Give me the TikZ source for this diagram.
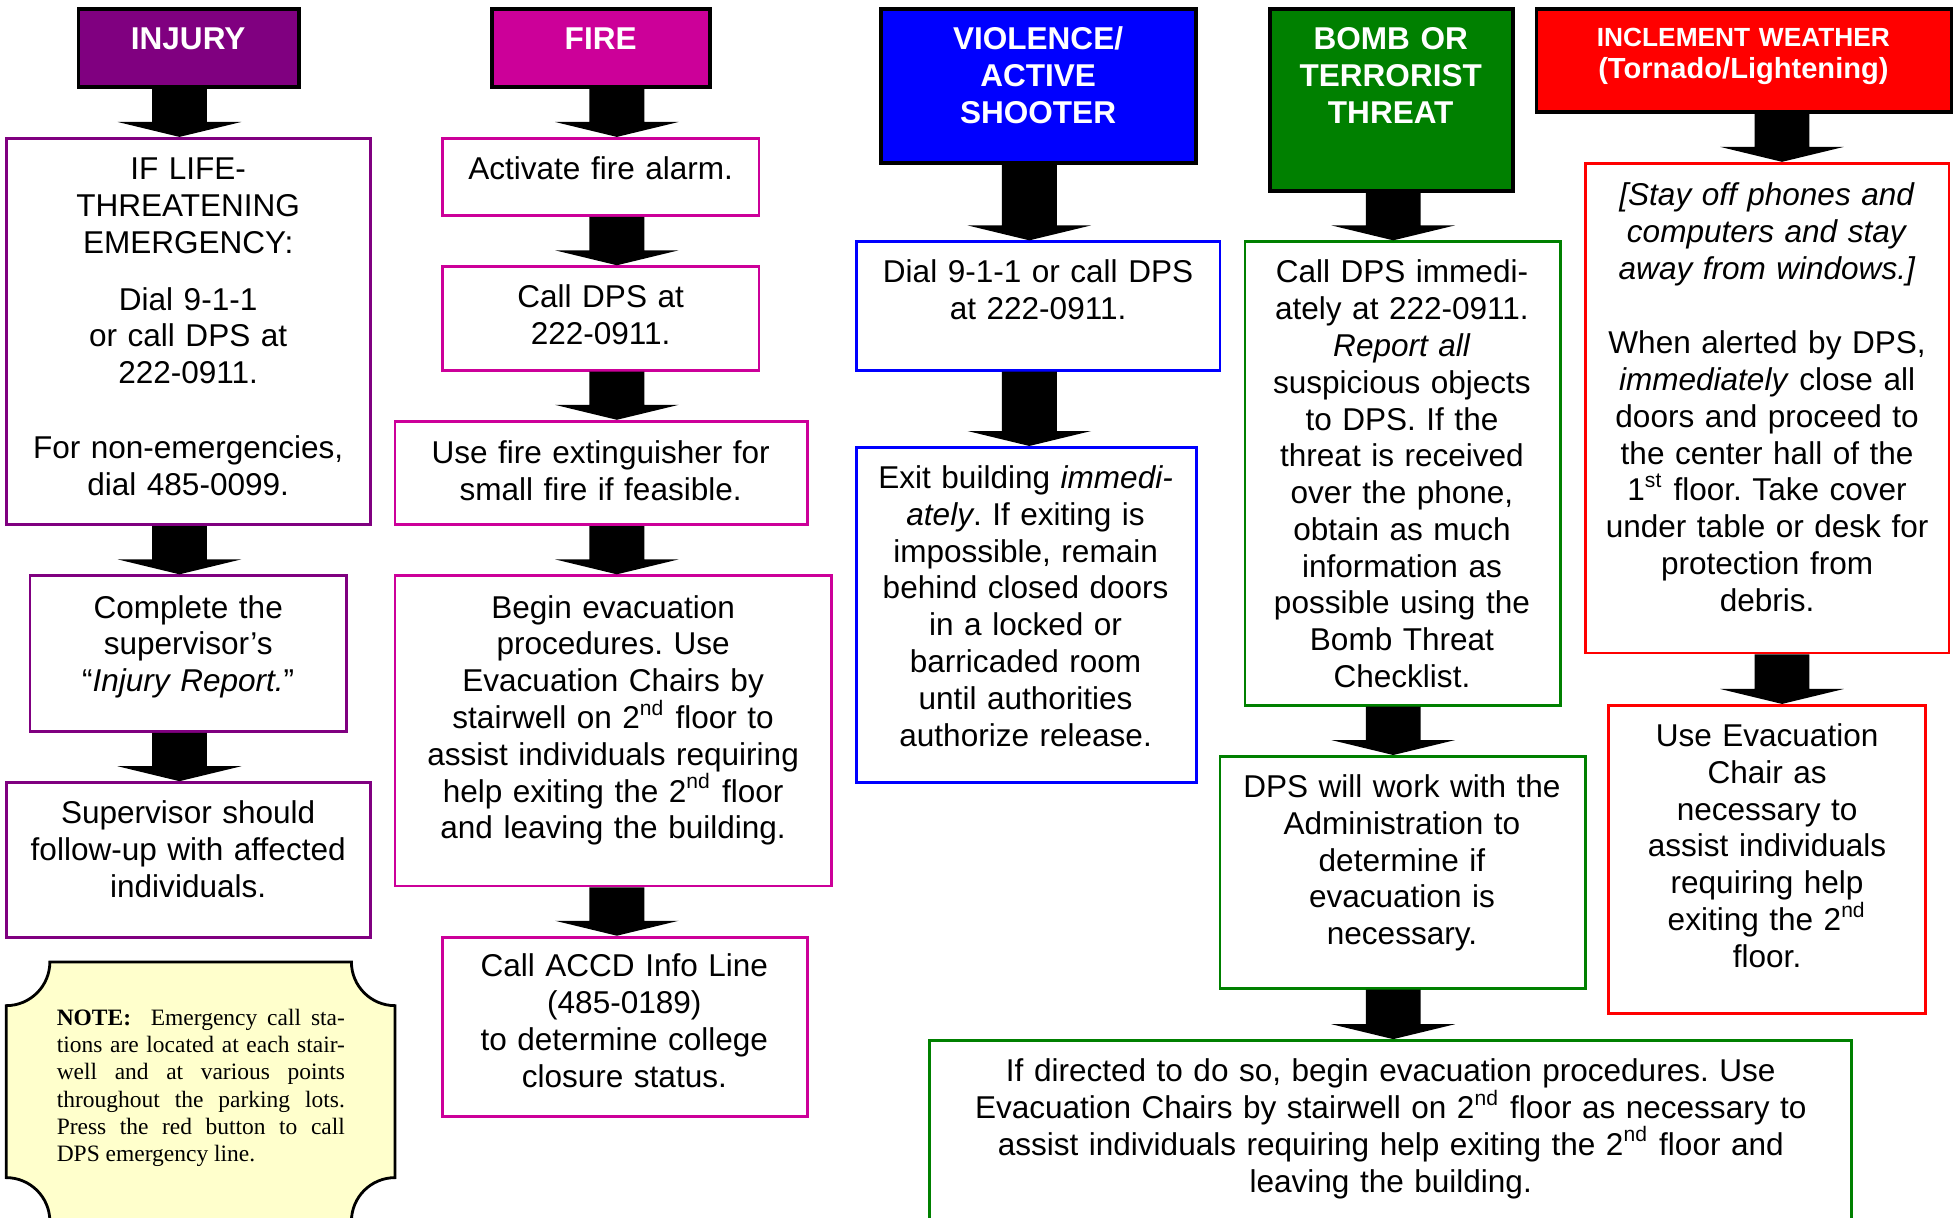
\documentclass[tikz,border=0pt]{standalone}
\usepackage{fontspec}
\setmainfont{Liberation Sans}
\newfontfamily\notefont{Liberation Serif}
\usetikzlibrary{fit}
\usetikzlibrary{calc}
\frenchspacing

\definecolor{InjuryCol}{HTML}{800080}
\definecolor{FireCol}{HTML}{CC0099}
\definecolor{ViolenceCol}{HTML}{0000FF}
\definecolor{BombCol}{HTML}{008000}
\definecolor{WeatherCol}{HTML}{FF0000}
\definecolor{NoteCol}{HTML}{FFFFCC}

% block arrow from the box #1 down to the box #2, centred on the x of #3
\newcommand{\flowarrow}[3]{%
    \fill [black] let \p1 = (#1.south -| #3), \p2 = (#2.north -| #3) in
        (\x1-2.75mm,\y1) -- (\x1+2.75mm,\y1) -- (\x1+2.75mm,\y2+1.5mm)
        -- (\x1+6.2mm,\y2+1.5mm) -- (\x2,\y2) -- (\x1-6.2mm,\y2+1.5mm)
        -- (\x1-2.75mm,\y2+1.5mm) -- cycle;
}

\begin{document}
\begin{tikzpicture}[x=0.125mm, y=-0.125mm,
    headbox/.style={draw=black, line width=1.1pt, inner sep=0pt},
    stepbox/.style={draw, line width=0.8pt, inner sep=0pt},
    txt/.style={anchor=base, align=center, text width=45mm, inner sep=0pt,
        font=\fontsize{9}{10.5}\selectfont},
    headtxt/.style={txt, text=white, font=\fontsize{9}{10.5}\selectfont\bfseries},
    notetxt/.style={anchor=base west, align=justify, text width=28.9mm, inner sep=0pt,
        font=\notefont\fontsize{6.7}{7.75}\selectfont}]

    \useasboundingbox (0,0) rectangle (1568,977);
    \fill [white] (0,0) rectangle (1568,977);

    % x of the arrows in each column
    \coordinate (InjuryAx)   at (144,0);
    \coordinate (FireAx)     at (495,0);
    \coordinate (ViolenceAx) at (826,0);
    \coordinate (BombAx)     at (1118,0);
    \coordinate (WeatherAx)  at (1430,0);

    % Headers
    \node [headbox, fill=InjuryCol,   fit={(63,7) (240,70)}]    (InjuryHead)   {};
    \node [headbox, fill=FireCol,     fit={(395,7) (570,70)}]   (FireHead)     {};
    \node [headbox, fill=ViolenceCol, fit={(707,7) (960,131)}]  (ViolenceHead) {};
    \node [headbox, fill=BombCol,     fit={(1019,7) (1214,153)}] (BombHead)    {};
    \node [headbox, fill=WeatherCol,  fit={(1233,7) (1566,90)}] (WeatherHead)  {};

    \node [headtxt] (InjuryTitle)   at (151,40)  {INJURY};
    \node [headtxt] (FireTitle)     at (482,40)  {FIRE};
    \node [headtxt] (ViolenceTitle) at (833,40)  {VIOLENCE/\\ACTIVE\\SHOOTER};
    \node [headtxt] (BombTitle)     at (1116,40) {BOMB OR\\TERRORIST\\THREAT};
    \node [headtxt, font=\fontsize{7.5}{9.2}\selectfont\bfseries] (WeatherTitle) at (1399,37)
        {INCLEMENT WEATHER\\{\fontsize{8.3}{9.2}\selectfont(Tornado/Lightening)}};

    % Injury column
    \node [stepbox, draw=InjuryCol, fit={(5,111) (297,421)}]  (InjuryOne)   {};
    \node [stepbox, draw=InjuryCol, fit={(24,462) (278,587)}] (InjuryTwo)   {};
    \node [stepbox, draw=InjuryCol, fit={(5,628) (297,752)}]  (InjuryThree) {};

    \node [txt] (InjuryOneText) at (151,144)
        {IF LIFE-\\THREATENING\\EMERGENCY:\\[5.8pt]Dial 9-1-1\\or call DPS at\\222-0911.\\[10.8pt]For non-emergencies,\\dial 485-0099.};
    \node [txt] (InjuryTwoText) at (151,496)
        {Complete the\\supervisor’s\\“\textit{Injury Report.}”};
    \node [txt] (InjuryThreeText) at (151,661)
        {Supervisor should\\follow-up with affected\\individuals.};

    \flowarrow{InjuryHead}{InjuryOne}{InjuryAx}
    \flowarrow{InjuryOne}{InjuryTwo}{InjuryAx}
    \flowarrow{InjuryTwo}{InjuryThree}{InjuryAx}

    % Note
    \draw [fill=NoteCol, line width=0.8pt] (40,772) -- (282,772)
        .. controls (282,791.3) and (297.7,807) .. (317,807) -- (317,945)
        .. controls (297.7,945) and (282,960.7) .. (282,980) -- (40,980)
        .. controls (40,960.7) and (24.3,945) .. (5,945) -- (5,807)
        .. controls (24.3,807) and (40,791.3) .. cycle;
    \node [notetxt] (NoteText) at (45,823)
        {\tolerance=9999 \textbf{NOTE:}\ \ Emergency call sta-\linebreak tions are located at each stair-\linebreak well and at various points\linebreak throughout the parking lots.\linebreak Press the red button to call\linebreak DPS emergency line.};

    % Fire column
    \node [stepbox, draw=FireCol, fit={(355,111) (609,173)}] (FireOne)   {};
    \node [stepbox, draw=FireCol, fit={(355,214) (609,297)}] (FireTwo)   {};
    \node [stepbox, draw=FireCol, fit={(317,338) (648,421)}] (FireThree) {};
    \node [stepbox, draw=FireCol, fit={(317,462) (667,711)}] (FireFour)  {};
    \node [stepbox, draw=FireCol, fit={(355,752) (648,896)}] (FireFive)  {};

    \node [txt] (FireOneText)   at (482,144) {Activate fire alarm.};
    \node [txt] (FireTwoText)   at (482,247) {Call DPS at\\222-0911.};
    \node [txt] (FireThreeText) at (482,372) {Use fire extinguisher for\\small fire if feasible.};
    \node [txt] (FireFourText)  at (492,496)
        {Begin evacuation\\procedures. Use\\Evacuation Chairs by\\stairwell on 2\textsuperscript{nd} floor to\\assist individuals requiring\\help exiting the 2\textsuperscript{nd} floor\\and leaving the building.};
    \node [txt] (FireFiveText)  at (501,784)
        {Call ACCD Info Line\\(485-0189)\\to determine college\\closure status.};

    \flowarrow{FireHead}{FireOne}{FireAx}
    \flowarrow{FireOne}{FireTwo}{FireAx}
    \flowarrow{FireTwo}{FireThree}{FireAx}
    \flowarrow{FireThree}{FireFour}{FireAx}
    \flowarrow{FireFour}{FireFive}{FireAx}

    % Violence column
    \node [stepbox, draw=ViolenceCol, fit={(687,194) (979,297)}] (ViolenceOne) {};
    \node [stepbox, draw=ViolenceCol, fit={(687,359) (960,628)}] (ViolenceTwo) {};

    \node [txt] (ViolenceOneText) at (833,227) {Dial 9-1-1 or call DPS\\at 222-0911.};
    \node [txt] (ViolenceTwoText) at (823,392)
        {Exit building \textit{immedi-}\\\textit{ately}. If exiting is\\impossible, remain\\behind closed doors\\in a locked or\\barricaded room\\until authorities\\authorize release.};

    \flowarrow{ViolenceHead}{ViolenceOne}{ViolenceAx}
    \flowarrow{ViolenceOne}{ViolenceTwo}{ViolenceAx}

    % Bomb column
    \node [stepbox, draw=BombCol, fit={(999,194) (1252,566)}] (BombOne)   {};
    \node [stepbox, draw=BombCol, fit={(979,607) (1272,793)}] (BombTwo)   {};
    \node [stepbox, draw=BombCol, fit={(746,835) (1486,990)}] (BombThree) {};

    \node [txt] (BombOneText) at (1125,227)
        {Call DPS immedi-\\ately at 222-0911.\\\textit{Report all}\\suspicious objects\\to DPS. If the\\threat is received\\over the phone,\\obtain as much\\information as\\possible using the\\Bomb Threat\\Checklist.};
    \node [txt] (BombTwoText) at (1125,640)
        {DPS will work with the\\Administration to\\determine if\\evacuation is\\necessary.};
    \node [txt, text width=95mm] (BombThreeText) at (1116,868)
        {If directed to do so, begin evacuation procedures. Use\\Evacuation Chairs by stairwell on 2\textsuperscript{nd} floor as necessary to\\assist individuals requiring help exiting the 2\textsuperscript{nd} floor and\\leaving the building.};

    \flowarrow{BombHead}{BombOne}{BombAx}
    \flowarrow{BombOne}{BombTwo}{BombAx}
    \flowarrow{BombTwo}{BombThree}{BombAx}

    % Weather column
    \node [stepbox, draw=WeatherCol, fit={(1272,131) (1564,524)}] (WeatherOne) {};
    \node [stepbox, draw=WeatherCol, fit={(1291,566) (1545,813)}] (WeatherTwo) {};

    \node [txt] (WeatherOneText) at (1418,165)
        {\textit{[Stay off phones and}\\\textit{computers and stay}\\\textit{away from windows.]}\\[10.8pt]When alerted by DPS,\\\textit{immediately} close all\\doors and proceed to\\the center hall of the\\1\textsuperscript{st} floor. Take cover\\under table or desk for\\protection from\\debris.};
    \node [txt] (WeatherTwoText) at (1418,599)
        {Use Evacuation\\Chair as\\necessary to\\assist individuals\\requiring help\\exiting the 2\textsuperscript{nd}\\floor.};

    \flowarrow{WeatherHead}{WeatherOne}{WeatherAx}
    \flowarrow{WeatherOne}{WeatherTwo}{WeatherAx}
\end{tikzpicture}
\end{document}
